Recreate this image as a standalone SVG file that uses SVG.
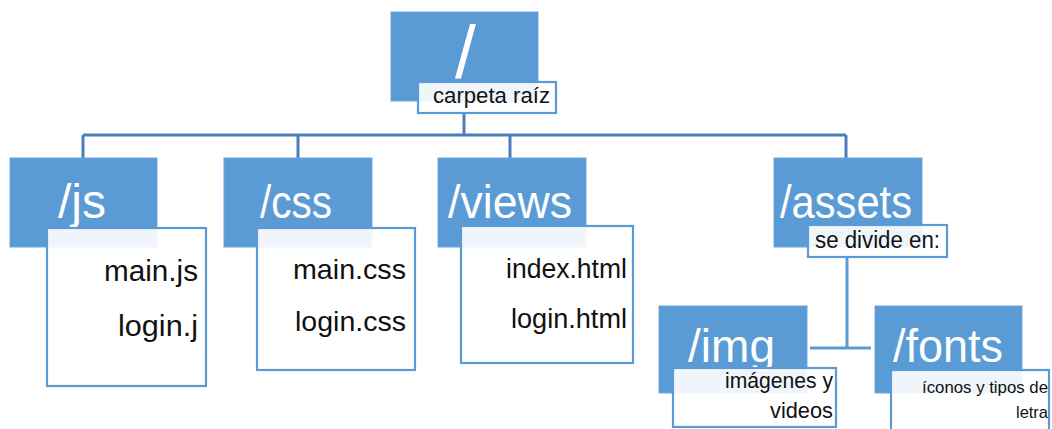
<svg xmlns="http://www.w3.org/2000/svg" width="1052" height="429" viewBox="0 0 1052 429">
<style>
.bg{fill:#ffffff}
.blue{fill:#5b9bd5;stroke:#6ea6da;stroke-width:1}
.box{fill:#ffffff;fill-opacity:0.9;stroke:#5b9bd5;stroke-width:2.2}
.title{font-family:"Liberation Sans",Arial,sans-serif;fill:#ffffff}
.item{font-family:"Liberation Sans",Arial,sans-serif;fill:#111111}
.conn{stroke:#4a7ebb;stroke-width:3;fill:none}
.conn2{stroke:#5b9bd5;stroke-width:3;fill:none}
</style>
<rect class="bg" x="0" y="0" width="1052" height="429"/>
<g id="connectors">
<line class="conn" x1="464" y1="113" x2="464" y2="135"/>
<line class="conn" x1="83" y1="135" x2="846" y2="135"/>
<line class="conn" x1="83" y1="135" x2="83" y2="158"/>
<line class="conn" x1="298" y1="135" x2="298" y2="158"/>
<line class="conn" x1="510" y1="135" x2="510" y2="158"/>
<line class="conn" x1="846" y1="135" x2="846" y2="158"/>
<line class="conn2" x1="847" y1="257" x2="847" y2="348"/>
<line class="conn2" x1="810" y1="348" x2="871" y2="348"/>
</g>
<g id="root">
<rect class="blue" x="391" y="12" width="147" height="89"/>
<text class="title" x="455" y="78" font-size="75">/</text>
<rect class="box" x="418" y="82" width="138" height="31"/>
<text class="item" x="433" y="103" font-size="22" textLength="117" lengthAdjust="spacingAndGlyphs">carpeta raíz</text>
</g>
<g id="js">
<rect class="blue" x="10" y="158" width="147" height="89"/>
<text class="title" x="58" y="218" font-size="48" textLength="48" lengthAdjust="spacingAndGlyphs">/js</text>
<rect class="box" x="47" y="228" width="159" height="158"/>
<text class="item" x="104" y="281" font-size="29" textLength="94" lengthAdjust="spacingAndGlyphs">main.js</text>
<text class="item" x="118" y="336" font-size="29" textLength="80" lengthAdjust="spacingAndGlyphs">login.j</text>
</g>
<g id="css">
<rect class="blue" x="224" y="158" width="148" height="89"/>
<text class="title" x="260" y="218" font-size="46" textLength="72" lengthAdjust="spacingAndGlyphs">/css</text>
<rect class="box" x="257" y="228" width="158" height="142"/>
<text class="item" x="293" y="279" font-size="28" textLength="113" lengthAdjust="spacingAndGlyphs">main.css</text>
<text class="item" x="295" y="331" font-size="28" textLength="111" lengthAdjust="spacingAndGlyphs">login.css</text>
</g>
<g id="views">
<rect class="blue" x="438" y="158" width="148" height="89"/>
<text class="title" x="448" y="218" font-size="46" textLength="124" lengthAdjust="spacingAndGlyphs">/views</text>
<rect class="box" x="461" y="226" width="172" height="137"/>
<text class="item" x="506" y="278" font-size="27" textLength="121" lengthAdjust="spacingAndGlyphs">index.html</text>
<text class="item" x="511" y="328" font-size="27" textLength="116" lengthAdjust="spacingAndGlyphs">login.html</text>
</g>
<g id="assets">
<rect class="blue" x="774" y="158" width="148" height="89"/>
<text class="title" x="780" y="218" font-size="46" textLength="132" lengthAdjust="spacingAndGlyphs">/assets</text>
<rect class="box" x="808" y="225" width="139" height="32"/>
<text class="item" x="815" y="248" font-size="23" textLength="125" lengthAdjust="spacingAndGlyphs">se divide en:</text>
</g>
<g id="img">
<rect class="blue" x="659" y="306" width="148" height="87"/>
<text class="title" x="688" y="362" font-size="46" textLength="87" lengthAdjust="spacingAndGlyphs">/img</text>
<rect class="box" x="673" y="368" width="163" height="59"/>
<text class="item" x="725" y="388" font-size="22" textLength="108" lengthAdjust="spacingAndGlyphs">imágenes y</text>
<text class="item" x="770" y="418" font-size="22" textLength="63" lengthAdjust="spacingAndGlyphs">videos</text>
</g>
<g id="fonts">
<rect class="blue" x="875" y="306" width="147" height="87"/>
<text class="title" x="893" y="362" font-size="46" textLength="110" lengthAdjust="spacingAndGlyphs">/fonts</text>
<rect class="box" x="891" y="370" width="158" height="70"/>
<text class="item" x="922" y="393" font-size="17" textLength="126" lengthAdjust="spacingAndGlyphs">íconos y tipos de</text>
<text class="item" x="1016" y="418" font-size="17" textLength="32" lengthAdjust="spacingAndGlyphs">letra</text>
</g>
</svg>
